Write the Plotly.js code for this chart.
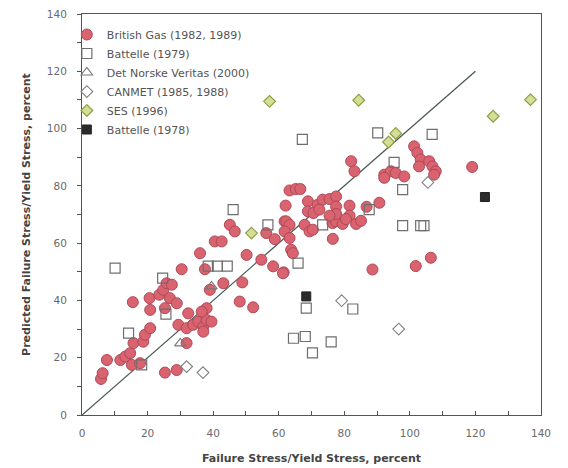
<!DOCTYPE html>
<html>
<head>
<meta charset="utf-8">
<script src="https://cdn.plot.ly/plotly-3.0.1.min.js"></script>
<style>html,body{margin:0;padding:0;background:#fff;}#chart{width:568px;height:468px;}</style>
</head>
<body>
<div id="chart"></div>
<script>
// British Gas (1982, 1989)
const bgX = [5.8,6.3,7.6,11.7,13.2,14.7,15.2,17.7,15.7,18.7,19.2,20.8,15.5,20.6,20.8,23.6,24.8,25.8,27.4,26.8,28.9,25.3,30.4,29.4,31.9,32.4,31.9,25.3,28.9,33.9,35.5,37,37,38,39.5,38,36.5,36,37.5,39,40.5,42.6,43.1,45.1,46.6,48.9,48.1,50.2,52.2,54.7,58.3,56.2,58.8,61.5,
  62.1,61.8,63.3,65.2,66.6,68.9,71.9,73.4,75.5,77.5,77.5,68.9,70.6,72.4,62.3,63.3,61.8,63.3,67.9,69.4,70.4,76.4,77.5,63.8,64.3,61.3,
  82.1,83.1,101.3,102.3,103.3,102.8,105.9,106.9,107.9,107.4,119,92.2,94.2,95.7,98.3,92.2,90.7,86.8,81.6,81.6,77.5,75.5,79.5,83.6,76.5,80.5,85.1,88.6,101.8,106.4];
const bgY = [12.6,14.6,19.2,19.2,20.4,21.6,17.5,18.1,25.1,25.6,28,30.3,39.4,40.8,36.7,42,43.7,46,45.5,40.8,39,37.3,50.9,31.5,30.3,35.5,25.1,14.8,15.7,31.5,32.6,30.9,29.1,33.2,32.6,37.3,36.1,56.5,50.9,43.7,60.6,60.6,46,66.4,64.1,46.3,39.6,55.9,37.6,54.2,51.9,63.5,61.4,49.8,
  73.1,67.6,78.4,78.9,78.9,74.6,73.4,75.2,75.4,76.3,72.8,71.1,70.5,71.7,67.6,66.4,64.1,61.8,66.4,64.1,64.7,67,67.6,57.7,56.5,49.5,
  88.6,85.1,93.8,91.5,89.2,86.8,88.6,86.8,85.1,83.9,86.6,83.9,85.1,84.5,83.3,82.8,74.1,72.7,73.1,69.6,70.2,69.6,66.7,66.7,61.5,68.4,67.8,50.8,52,54.9];
// Battelle (1979)
const b79X = [10.1,24.6,25.6,38.5,41.3,44.3,46.1,56.7,65.9,67.2,64.5,68.1,70.3,68.4,82.6,73.4,87.6,90.2,95.2,97.8,97.8,103.3,104.3,18.2,14.2,76,106.8];
const b79Y = [51.3,47.8,35.2,52,52,52,71.7,66.4,53,96.2,26.8,27.4,21.7,37.3,37,66.4,71.7,98.5,88.2,78.7,66.1,66.1,66.1,17.5,28.6,25.5,98];
// Det Norske Veritas (2000)
const dnvX = [30,39.5];
const dnvY = [25,44.9];
// CANMET (1985, 1988)
const canX = [31.9,36.9,79.2,96.6,105.5];
const canY = [16.9,14.8,39.9,30,81.2];
// SES (1996)
const sesX = [57.2,84.4,136.8,125.4,93.5,95.7,51.7];
const sesY = [109.5,109.9,110.1,104.3,95.3,98.3,63.5];
// Battelle (1978)
const b78X = [68.4,122.9];
const b78Y = [41.4,76.1];
// 1:1 line
const lineX = [0,120];
const lineY = [0,120];
const names = ['British Gas (1982, 1989)','Battelle (1979)','Det Norske Veritas (2000)','CANMET (1985, 1988)','SES (1996)','Battelle (1978)'];

const traces = [
  {x: lineX, y: lineY, mode: 'lines', line: {color: '#4a5a55', width: 1.3}, showlegend: false, hoverinfo: 'skip'},
  {x: bgX, y: bgY, name: names[0], mode: 'markers', type: 'scatter',
   marker: {symbol: 'circle', size: 11, color: '#d9636e', line: {color: '#b04858', width: 1}}},
  {x: b79X, y: b79Y, name: names[1], mode: 'markers', type: 'scatter',
   marker: {symbol: 'square-open', size: 10, color: '#6e6e6e', line: {width: 1.2}}},
  {x: dnvX, y: dnvY, name: names[2], mode: 'markers', type: 'scatter',
   marker: {symbol: 'triangle-up-open', size: 10, color: '#777777', line: {width: 1.1}}},
  {x: canX, y: canY, name: names[3], mode: 'markers', type: 'scatter',
   marker: {symbol: 'diamond-open', size: 9, color: '#808080', line: {width: 1.1}}},
  {x: sesX, y: sesY, name: names[4], mode: 'markers', type: 'scatter',
   marker: {symbol: 'diamond', size: 9, color: '#d4de96', line: {color: '#8f9f45', width: 1.2}}},
  {x: b78X, y: b78Y, name: names[5], mode: 'markers', type: 'scatter',
   marker: {symbol: 'square', size: 9, color: '#2b2b2b', line: {color: '#222', width: 1}}}
];

const fam = 'DejaVu Sans, Verdana, sans-serif';
const axisFont = {family: fam, size: 10.5, color: '#6a6a6a'};
const titleFont = {family: fam, size: 11, color: '#444', weight: 'bold'};
const layout = {
  width: 568, height: 468,
  margin: {l: 82, r: 27, t: 14, b: 53},
  paper_bgcolor: '#ffffff', plot_bgcolor: '#ffffff',
  showlegend: true,
  legend: {x: -0.033, y: 0.985, xanchor: 'left', yanchor: 'top', bgcolor: 'rgba(0,0,0,0)',
           font: {family: fam, size: 11, color: '#555'},
           itemwidth: 30, tracegroupgap: 0},
  xaxis: {range: [0, 140], dtick: 20, tick0: 0, showgrid: false, zeroline: false,
          showline: true, linecolor: '#555', linewidth: 1, mirror: true,
          ticks: 'inside', ticklen: 4, tickcolor: '#555', ticklabelstandoff: 8,
          minor: {dtick: 10, ticks: 'inside', ticklen: 4, tickcolor: '#555'},
          tickfont: axisFont,
          title: {text: 'Failure Stress/Yield Stress, percent', standoff: 16, font: titleFont}},
  yaxis: {range: [0, 140], dtick: 20, tick0: 0, showgrid: false, zeroline: false,
          showline: true, linecolor: '#555', linewidth: 1, mirror: true,
          ticks: 'outside', ticklen: 4, tickcolor: '#555', ticklabelstandoff: 8,
          minor: {dtick: 10, ticks: 'outside', ticklen: 4, tickcolor: '#555'},
          tickfont: axisFont,
          title: {text: 'Predicted Failure Stress/Yield Stress, percent', standoff: 14, font: titleFont}}
};
Plotly.newPlot('chart', traces, layout, {displayModeBar: false, staticPlot: true});
</script>
</body>
</html>
